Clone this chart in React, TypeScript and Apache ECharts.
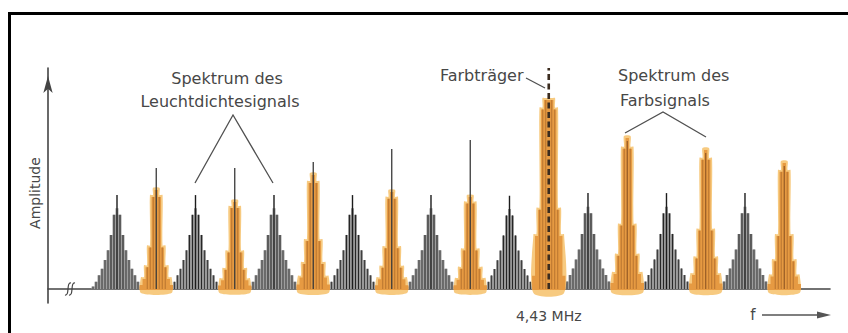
import React, { useEffect, useRef } from 'react';
import * as echarts from 'echarts';

// Luminance spectrum: line-frequency harmonics (x in multiples of line spacing)
const lumaPos = [1, 2, 3, 4, 5, 6, 7, 8, 9];
const lumaLine = [42.5, 42.5, 42.5, 42.5, 42.5, 42.2, 43.4, 43.4, 43.4];
const lumaBody = [36.5, 36.5, 36.5, 36.5, 36.5, 36.2, 37.2, 37.2, 37.2];

// Chrominance spectrum (interleaved), index 6.5 = colour carrier
const chromaPos = [1.5, 2.5, 3.5, 4.5, 5.5, 6.5, 7.5, 8.5, 9.5];
const chromaLine = [54.8, 54.8, 57.5, 63.3, 67.4, 100, 68.3, 62.9, 57.0];
const chromaBody = [44.8, 39.4, 51.6, 43.9, 41.6, 85.5, 68.3, 62.9, 57.0];
const chromaKind = [1, 1, 1, 1, 1, 2, 3, 3, 3];

// Relative sideband heights
const lumaProfile = [1, 0.92, 0.67, 0.48, 0.36, 0.25, 0.17, 0.09, 0.03];
const chromaProfile = [1, 0.93, 0.42, 0.22, 0.1, 0.04];
const carrierProfile = [1, 1, 0.95, 0.42, 0.28, 0.07];

const carrierValue = 6.5;
const carrierLabel = '4,43 MHz';
const yName = 'Amplitude';
const xName = 'f';
const lumaTitle = ['Spektrum des', 'Leuchtdichtesignals'];
const chromaTitle = ['Spektrum des', 'Farbsignals'];
const carrierTitle = 'Farbträger';

const SIDEBAND = 0.0382;
const FONT = "'DejaVu Sans', 'Noto Sans', sans-serif";
const TXT = '#474747';

function renderCluster(params: any, api: any) {
  const x0 = api.value(0);
  const body = api.value(1);
  const line = api.value(2);
  const kind = api.value(3);
  const prof = kind === 0 ? lumaProfile : kind === 2 ? carrierProfile : chromaProfile;
  const step = api.size([SIDEBAND, 0])[0];
  const base = api.coord([x0, 0]);
  const cx = base[0];
  const by = base[1];
  const hpx = by - api.coord([x0, body])[1];
  const lineY = api.coord([x0, line])[1];
  const n = prof.length;

  const env = (grow: number, lift: number, drop: number, m: number) => {
    const pts: number[][] = [];
    pts.push([cx - (m - 0.5) * step - grow, by + drop]);
    for (let k = m - 1; k >= 1; k--) {
      const y = by - prof[k] * hpx - lift;
      pts.push([cx - (k + 0.5) * step - grow, y]);
      pts.push([cx - (k - 0.5) * step - grow, y]);
    }
    const ty = by - prof[0] * hpx - lift;
    pts.push([cx - 0.5 * step - grow, ty]);
    pts.push([cx + 0.5 * step + grow, ty]);
    for (let k = 1; k < m; k++) {
      const y = by - prof[k] * hpx - lift;
      pts.push([cx + (k - 0.5) * step + grow, y]);
      pts.push([cx + (k + 0.5) * step + grow, y]);
    }
    pts.push([cx + (m - 0.5) * step + grow, by + drop]);
    return pts;
  };

  const children: any[] = [];
  if (kind === 0) {
    children.push({ type: 'polygon', shape: { points: env(0, 0, 0, n) }, style: { fill: '#9e9e9e' } });
    for (let k = 1; k < n; k++) {
      const h = prof[k] * hpx;
      [-1, 1].forEach((s) => {
        children.push({
          type: 'line',
          shape: { x1: cx + s * k * step, y1: by, x2: cx + s * k * step, y2: by - h },
          style: { stroke: k < 3 ? '#262626' : '#404040', lineWidth: 1.1 },
        });
      });
    }
    children.push({
      type: 'line',
      shape: { x1: cx, y1: by, x2: cx, y2: lineY },
      style: { stroke: '#1c1c1c', lineWidth: 1.4 },
    });
  } else {
    children.push({
      type: 'polygon',
      shape: { points: env(1.8, 2, 4, n - 1), smooth: 0.25 },
      style: { fill: '#f7ca80' },
    });
    children.push({ type: 'polygon', shape: { points: env(0.2, 0, 1, n) }, style: { fill: '#e69a42' } });
    for (let k = 1; k < Math.min(n, 4); k++) {
      const h = prof[k] * hpx;
      [-1, 1].forEach((s) => {
        children.push({
          type: 'line',
          shape: { x1: cx + s * k * step, y1: by, x2: cx + s * k * step, y2: by - h },
          style: { stroke: '#b3712e', lineWidth: 0.9 },
        });
      });
    }
    if (kind === 2) {
      children.push({
        type: 'line',
        shape: { x1: cx, y1: by, x2: cx, y2: lineY },
        style: { stroke: '#3b2c1f', lineWidth: 2.6, lineDash: [6, 3.5] },
      });
    } else if (kind === 1) {
      children.push({
        type: 'line',
        shape: { x1: cx, y1: by, x2: cx, y2: lineY },
        style: { stroke: '#3a3a3a', lineWidth: 1.3 },
      });
    } else {
      children.push({
        type: 'line',
        shape: { x1: cx, y1: by, x2: cx, y2: lineY + 3 },
        style: { stroke: '#8e5522', lineWidth: 1.1 },
      });
    }
  }
  return { type: 'group', children };
}

export default function App() {
  const ref = useRef<HTMLDivElement>(null);
  useEffect(() => {
    if (!ref.current) return;
    const chart = echarts.init(ref.current, null, { renderer: 'svg' });
    const data: any[] = [];
    lumaPos.forEach((x, i) => data.push([x, lumaBody[i], lumaLine[i], 0]));
    chromaPos.forEach((x, i) => data.push([x, chromaBody[i], chromaLine[i], chromaKind[i]]));

    const leader = { stroke: '#505050', lineWidth: 1.3, fill: 'none' };
    const ts = (text: string, x: number, y: number, align: string, size = 16) => ({
      type: 'text',
      x,
      y,
      style: { text, fill: TXT, font: `${size}px ${FONT}`, align, verticalAlign: 'middle' },
      z: 20,
    });
    const brk = (dx: number) => ({
      type: 'bezierCurve',
      shape: { x1: 65 + dx, y1: 295, cpx1: 70 + dx, cpy1: 296, cpx2: 66 + dx, cpy2: 282, x2: 71 + dx, y2: 283 },
      style: { stroke: '#444', lineWidth: 1.2, fill: 'none' },
      z: 20,
    });

    chart.setOption({
      animation: false,
      backgroundColor: '#ffffff',
      grid: { left: 48, right: 18, top: 68, bottom: 30, containLabel: false },
      xAxis: {
        type: 'value',
        min: 0.121,
        max: 10.083,
        splitLine: { show: false },
        axisTick: { show: false },
        axisLine: { show: true, onZero: true, lineStyle: { color: '#444', width: 1.6 } },
        axisLabel: {
          show: true,
          customValues: [carrierValue],
          formatter: () => carrierLabel,
          margin: 6,
          color: TXT,
          fontSize: 14,
          fontFamily: FONT,
        },
      },
      yAxis: {
        type: 'value',
        min: -6.33,
        max: 100,
        splitLine: { show: false },
        axisTick: { show: false },
        axisLabel: { show: false },
        axisLine: {
          show: true,
          onZero: false,
          symbol: ['none', 'arrow'],
          symbolSize: [7, 17],
          symbolOffset: [0, -8],
          lineStyle: { color: '#444', width: 1.6 },
        },
      },
      series: [
        {
          type: 'custom',
          renderItem: renderCluster,
          data,
          clip: false,
          z: 5,
        },
      ],
      graphic: [
        {
          type: 'polyline',
          shape: { points: [[9.5, 333], [9.5, 13.5], [848, 13.5]] },
          style: { stroke: '#000', lineWidth: 3, fill: 'none' },
          z: 30,
        },
        {
          type: 'text',
          x: 35,
          y: 193,
          rotation: Math.PI / 2,
          style: { text: yName, fill: TXT, font: `14px ${FONT}`, align: 'center', verticalAlign: 'middle' },
          z: 20,
        },
        ts(lumaTitle[0], 227, 78, 'center'),
        ts(lumaTitle[1], 220, 101, 'center'),
        { type: 'polyline', shape: { points: [[195, 183], [233, 115], [273, 183]] }, style: leader, z: 20 },
        ts(carrierTitle, 440, 75, 'left'),
        { type: 'polyline', shape: { points: [[526, 78], [545, 88]] }, style: leader, z: 20 },
        ts(chromaTitle[0], 618, 75, 'left'),
        ts(chromaTitle[1], 620, 100, 'left'),
        { type: 'polyline', shape: { points: [[625, 133], [663, 112], [706, 137]] }, style: leader, z: 20 },
        brk(0),
        brk(4),
        ts(xName, 753, 315, 'center', 15),
        { type: 'line', shape: { x1: 762, y1: 315, x2: 822, y2: 315 }, style: { stroke: '#555', lineWidth: 1.5 }, z: 20 },
        { type: 'polygon', shape: { points: [[817, 311.5], [831, 315], [817, 318.5]] }, style: { fill: '#555' }, z: 20 },
      ],
    });
    return () => chart.dispose();
  }, []);
  return <div ref={ref} style={{ position: 'fixed', left: 0, top: 0, width: 848, height: 333 }} />;
}
